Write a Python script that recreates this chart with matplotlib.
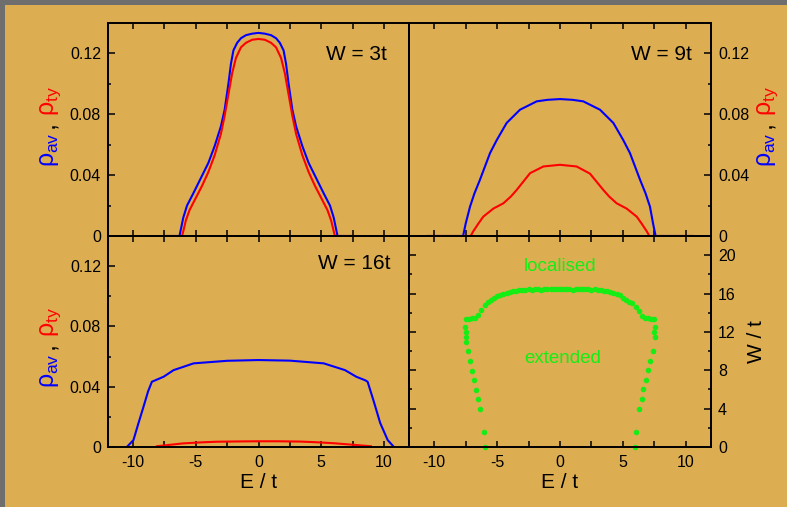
import matplotlib
matplotlib.use("Agg")
import matplotlib.pyplot as plt
from matplotlib.patches import Rectangle
from matplotlib.ticker import MultipleLocator, FixedLocator

plt.rcParams['font.family'] = ['Liberation Sans', 'DejaVu Sans']
plt.rcParams['mathtext.fontset'] = 'custom'
plt.rcParams['mathtext.rm'] = 'Liberation Sans'
plt.rcParams['mathtext.it'] = 'Liberation Sans'
plt.rcParams['axes.unicode_minus'] = False

BG = '#DDAD52'
GRAY = '#6E6E6E'
GREEN = '#14EE14'

# W = 3t
e_av3 = [-7.5, -6.3, -6.2, -6.0, -5.7, -5.2, -4.6, -4.0, -3.5, -3.0, -2.7, -2.4, -2.2, -2.0,
         -1.7, -1.4, -1.0, -0.5, 0.0, 0.5, 1.0, 1.4, 1.7, 2.0, 2.2, 2.4, 2.7, 3.0, 3.5, 4.0,
         4.6, 5.2, 5.7, 6.0, 6.2, 6.3, 7.5]
r_av3 = [0, 0, 0.004, 0.012, 0.020, 0.028, 0.038, 0.048, 0.059, 0.072, 0.083, 0.100, 0.113, 0.122,
         0.127, 0.130, 0.132, 0.133, 0.1335, 0.133, 0.132, 0.130, 0.127, 0.122, 0.113, 0.100, 0.083,
         0.072, 0.059, 0.048, 0.038, 0.028, 0.020, 0.012, 0.004, 0, 0]
e_ty3 = [-7.5, -6.1, -6.0, -5.8, -5.5, -5.0, -4.5, -4.0, -3.5, -3.0, -2.7, -2.4, -2.1, -1.8,
         -1.4, -1.0, -0.5, 0.0, 0.5, 1.0, 1.4, 1.8, 2.1, 2.4, 2.7, 3.0, 3.5, 4.0, 4.5, 5.0,
         5.5, 5.8, 6.0, 6.1, 7.5]
r_ty3 = [0, 0, 0.003, 0.010, 0.017, 0.025, 0.033, 0.042, 0.053, 0.067, 0.079, 0.093, 0.107, 0.117,
         0.124, 0.127, 0.129, 0.1295, 0.129, 0.127, 0.124, 0.117, 0.107, 0.093, 0.079, 0.067,
         0.053, 0.042, 0.033, 0.025, 0.017, 0.010, 0.003, 0, 0]

# W = 9t
e_av9 = [-10.5, -7.7, -7.5, -7.15, -6.8, -6.36, -5.56, -5.03, -4.24, -3.18, -1.85, -1.0, 0.0,
         1.0, 1.85, 3.18, 4.24, 5.03, 5.56, 6.36, 6.8, 7.15, 7.4, 7.6, 10.5]
r_av9 = [0, 0, 0.008, 0.0193, 0.028, 0.037, 0.0545, 0.063, 0.0743, 0.083, 0.0885, 0.0895, 0.090,
         0.0895, 0.0885, 0.083, 0.0743, 0.063, 0.0545, 0.037, 0.028, 0.0193, 0.008, 0, 0]
e_ty9 = [-10.5, -7.1, -6.9, -6.5, -6.1, -5.3, -4.5, -3.9, -3.44, -2.38, -1.32, 0.0, 1.32, 2.38,
         3.44, 3.9, 4.5, 5.3, 6.1, 6.5, 6.9, 7.1, 10.5]
r_ty9 = [0, 0, 0.003, 0.008, 0.0127, 0.018, 0.0215, 0.026, 0.0303, 0.0413, 0.0457, 0.0468,
         0.0457, 0.041, 0.0303, 0.026, 0.0215, 0.018, 0.0127, 0.008, 0.003, 0, 0]

# W = 16t
e_av16 = [-10.5, -9.97, -9.6, -9.17, -8.8, -8.5, -7.57, -6.77, -5.17, -2.5, 0.0, 2.5, 5.2,
          6.9, 7.8, 8.5, 8.7, 9.2, 9.7, 10.3, 10.8]
r_av16 = [0, 0.0046, 0.015, 0.0267, 0.037, 0.0433, 0.0466, 0.051, 0.0555, 0.0572, 0.0577,
          0.0573, 0.0555, 0.051, 0.0466, 0.0443, 0.0433, 0.030, 0.016, 0.0046, 0]
e_ty16 = [-8.1, -7.0, -6.0, -4.5, -3.33, -1.5, 0.0, 1.5, 3.33, 4.5, 6.0, 7.5, 8.96]
r_ty16 = [0.0005, 0.0015, 0.0024, 0.0031, 0.0035, 0.0037, 0.0038, 0.0038, 0.0036, 0.0032,
          0.0025, 0.0015, 0.0005]

# mobility edge
e_me = [-5.96, -6.04, -6.36, -6.49, -6.68, -6.84, -7.0, -7.15, -7.31, -7.47, -7.47, -7.5, -7.53,
        -7.5, -7.25, -7.0, -6.75, -6.5, -6.25, -6.0, -5.75, -5.5, -5.25, -5.0, -4.75, -4.5, -4.25,
        -4.0, -3.75, -3.5, -3.25, -3.0, -2.75, -2.5, -2.25, -2.0, -1.75, -1.5, -1.25, -1.0, -0.75,
        -0.5, -0.25, 0.0, 0.25, 0.5, 0.75, 1.0, 1.25, 1.5, 1.75, 2.0, 2.25, 2.5, 2.75, 3.0, 3.25,
        3.5, 3.75, 4.0, 4.25, 4.5, 4.75, 5.0, 5.25, 5.5, 5.75, 6.0, 6.25, 6.5, 6.75, 7.0, 7.25, 7.5,
        7.55, 7.55, 7.5, 7.37, 7.15, 7.0, 6.81, 6.62, 6.49, 6.3, 6.04, 5.96]
w_me = [0.0, 1.52, 3.95, 4.99, 5.96, 7.0, 7.96, 9.0, 10.04, 10.98, 11.5, 12.0, 12.47,
        13.3, 13.35, 13.4, 13.5, 13.75, 14.3, 14.8, 15.15, 15.35, 15.55, 15.7, 15.85, 15.95, 16.05,
        16.15, 16.25, 16.3, 16.35, 16.4, 16.4, 16.45, 16.4, 16.45, 16.45, 16.4, 16.45, 16.45, 16.5,
        16.45, 16.45, 16.5, 16.45, 16.5, 16.45, 16.4, 16.45, 16.45, 16.5, 16.45, 16.45, 16.4, 16.45,
        16.4, 16.35, 16.3, 16.25, 16.15, 16.05, 15.95, 15.85, 15.5, 15.3, 15.15, 15.05, 14.6, 14.2,
        13.7, 13.5, 13.4, 13.35, 13.3,
        12.5, 11.5, 12.0, 10.04, 9.0, 8.0, 7.0, 6.0, 5.0, 3.95, 1.52, 0.0]

W_PX, H_PX = 787, 507
fig = plt.figure(figsize=(W_PX / 100, H_PX / 100), dpi=100)
fig.patch.set_facecolor(GRAY)
fig.patches.append(Rectangle((5 / W_PX, 0), 1, 1 - 5 / H_PX, transform=fig.transFigure,
                             facecolor=BG, edgecolor='none', zorder=-10))


def box(x0, y0, x1, y1):
    return [x0 / W_PX, 1 - y1 / H_PX, (x1 - x0) / W_PX, (y1 - y0) / H_PX]


ax1 = fig.add_axes(box(108, 23, 409, 236))
ax2 = fig.add_axes(box(409, 23, 711, 236))
ax3 = fig.add_axes(box(108, 236, 409, 447))
ax4 = fig.add_axes(box(409, 236, 711, 447))

for ax in (ax1, ax2, ax3, ax4):
    ax.set_facecolor('none')
    for s in ax.spines.values():
        s.set_linewidth(1.4)
    ax.set_xlim(-12, 12)
    ax.xaxis.set_major_locator(MultipleLocator(5))
    ax.xaxis.set_minor_locator(FixedLocator([-7.5, -2.5, 2.5, 7.5]))
    ax.tick_params(axis='x', which='both', direction='in', top=True, bottom=True,
                   length=4.5, width=1.1, labelsize=11.5, pad=6)
    ax.tick_params(axis='y', which='major', direction='in', length=5, width=1.1, labelsize=11.5, pad=5)
    ax.tick_params(axis='y', which='minor', direction='in', length=2.5, width=1.1)

for ax in (ax1, ax2, ax3):
    ax.set_ylim(0, 0.14)
    ax.yaxis.set_major_locator(MultipleLocator(0.04))
    ax.yaxis.set_minor_locator(MultipleLocator(0.02))
    ax.yaxis.set_major_formatter(lambda v, p: '0' if abs(v) < 1e-9 else f'{v:.2f}')

for ax in (ax1, ax2):
    ax.tick_params(axis='x', labelbottom=False)

ax1.tick_params(axis='y', which='both', left=True, right=False)
ax3.tick_params(axis='y', which='both', left=True, right=False)
ax2.tick_params(axis='y', which='both', left=False, right=True, labelleft=False, labelright=True)
ax4.tick_params(axis='y', which='both', left=True, right=True, labelleft=False, labelright=True)

ax1.plot(e_av3, r_av3, color='#0000FF', lw=1.5)
ax1.plot(e_ty3, r_ty3, color='#FF0000', lw=1.5)
ax2.plot(e_ty9, r_ty9, color='#FF0000', lw=1.5)
ax2.plot(e_av9, r_av9, color='#0000FF', lw=1.5)
ax3.plot(e_av16, r_av16, color='#0000FF', lw=1.5)
ax3.plot(e_ty16, r_ty16, color='#FF0000', lw=1.5)

ax4.set_ylim(0, 22)
ax4.yaxis.set_major_locator(MultipleLocator(4))
ax4.yaxis.set_minor_locator(MultipleLocator(2))
ax4.plot(e_me, w_me, 'o', color=GREEN, ms=4, mec='none', clip_on=False)
ax4.text(0, 18.4, 'localised', color=GREEN, fontsize=13.5, ha='center', va='baseline')
ax4.text(0.25, 8.73, 'extended', color=GREEN, fontsize=13.5, ha='center', va='baseline')

ax1.text(0.927, 0.826, 'W = 3t', transform=ax1.transAxes, fontsize=15, ha='right', va='baseline')
ax2.text(0.937, 0.826, 'W = 9t', transform=ax2.transAxes, fontsize=15, ha='right', va='baseline')
ax3.text(0.937, 0.844, 'W = 16t', transform=ax3.transAxes, fontsize=15, ha='right', va='baseline')

ax3.set_xlabel('E / t', fontsize=15, labelpad=2)
ax4.set_xlabel('E / t', fontsize=15, labelpad=2)
ax4.yaxis.set_label_position('right')
ax4.set_ylabel('W / t', fontsize=15, labelpad=8)


def rho_label(xpx, ypx):
    # three coloured pieces, rotated, baseline at xpx, starting at ypx going up
    kw = dict(rotation=90, rotation_mode='anchor', ha='left', va='baseline', fontsize=18)
    x = xpx / W_PX
    y = H_PX - ypx
    fig.text(x, y / H_PX, r'$\rho_{\mathrm{av}}$', color='#0000FF', **kw)
    fig.text(x, (y + 39) / H_PX, ',', color='black', **kw)
    fig.text(x, (y + 51) / H_PX, r'$\rho_{\mathrm{ty}}$', color='#FF0000', **kw)


rho_label(54, 167)
rho_label(54, 388)
rho_label(771, 167)

fig.savefig('out.png', dpi=100, facecolor=fig.get_facecolor())
